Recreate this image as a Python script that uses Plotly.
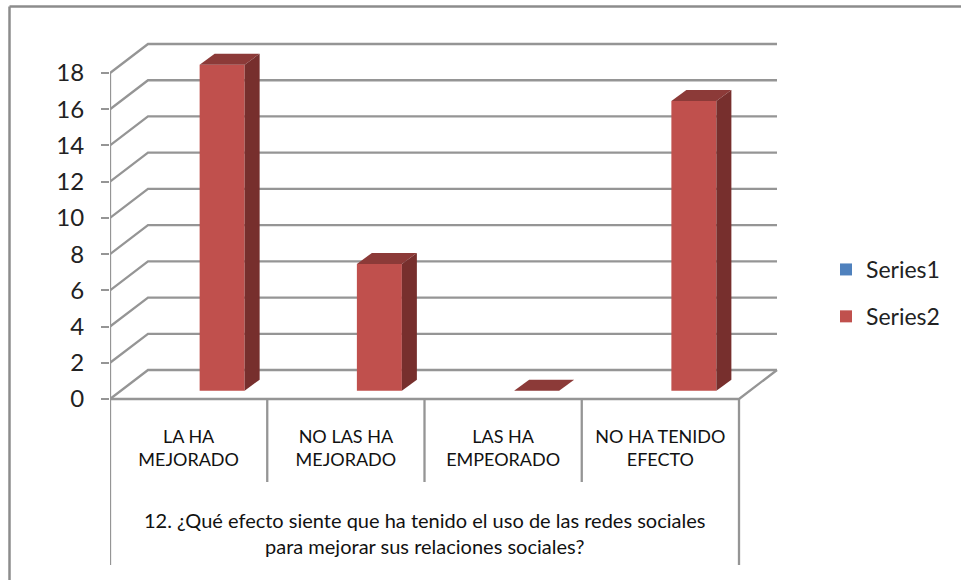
import plotly.graph_objects as go

categories = ["LA HA<br>MEJORADO", "NO LAS HA<br>MEJORADO", "LAS HA<br>EMPEORADO", "NO HA TENIDO<br>EFECTO"]
series1_values = [None, None, None, None]
series2_values = [18, 7, 0, 16]
y_ticks = list(range(0, 20, 2))
title_text = "12. ¿Qué efecto siente que ha tenido el uso de las redes sociales<br>para mejorar sus relaciones sociales?"

W, H = 961, 580
FONT = "Lato"
GRID = "#959595"
LW = 2.3
LEFT_PX, RIGHT_PX, TOP_PX, BOTTOM_PX, ZERO_PX = 110, 800, 36, 572, 399
CAT_PX, UNIT_PX = 157.25, 18.11
DX, DY = 38 / CAT_PX, 29 / UNIT_PX              # wall depth
BAR_DX, BAR_DY = 15 / CAT_PX, 11 / UNIT_PX      # bar depth
BAR_W = 45 / CAT_PX
BAR_OFF = 33.5 / CAT_PX - BAR_W / 2
BASE = 8.3 / UNIT_PX
n = len(categories)
xs = [i + 0.5 for i in range(n)]
y_top_val = max(y_ticks)

fig = go.Figure()

def line(xv, yv, width=LW):
    fig.add_trace(go.Scatter(x=xv, y=yv, mode="lines", line=dict(color=GRID, width=width),
                             showlegend=False, hoverinfo="skip"))

# walls: gridlines run along the left wall and then the back wall
for t in y_ticks:
    line([0, DX, n + DX], [t, t + DY, t + DY])
# floor edge
line([0, n, n + DX], [0, 0, DY])
# vertical axis and category separators
y_cat_end = -(482 - ZERO_PX) / UNIT_PX
y_title_end = -(565 - ZERO_PX) / UNIT_PX
line([0, 0], [y_top_val, y_title_end])
line([n, n], [0, y_title_end])
for i in range(1, n):
    line([i, i], [0, y_cat_end])

fig.add_trace(go.Bar(x=xs, y=series1_values, base=BASE, width=BAR_W, offset=BAR_OFF - BAR_W,
                     name="Series1", marker=dict(color="#4F81BD", line=dict(width=0)),
                     legendgroup="s1", xaxis="x2", yaxis="y2"))
fig.add_trace(go.Bar(x=xs, y=series2_values, base=BASE, width=BAR_W, offset=BAR_OFF,
                     name="Series2", marker=dict(color="#C0504D", line=dict(width=0)),
                     legendgroup="s2", xaxis="x2", yaxis="y2"))

# 3-D faces of the bars, derived from the data values
for cx, v in zip(xs, series2_values):
    x0 = cx + BAR_OFF
    x1 = x0 + BAR_W
    top = BASE + v
    fig.add_trace(go.Scatter(x=[x0, x1, x1 + BAR_DX, x0 + BAR_DX, x0],
                             y=[top, top, top + BAR_DY, top + BAR_DY, top],
                             fill="toself", fillcolor="#8C3A38", mode="none",
                             showlegend=False, hoverinfo="skip", xaxis="x2", yaxis="y2"))
    if v > 0:
        fig.add_trace(go.Scatter(x=[x1, x1 + BAR_DX, x1 + BAR_DX, x1, x1],
                                 y=[BASE, BASE + BAR_DY, top + BAR_DY, top, BASE],
                                 fill="toself", fillcolor="#772F2D", mode="none",
                                 showlegend=False, hoverinfo="skip", xaxis="x2", yaxis="y2"))

x_range = [0, (RIGHT_PX - LEFT_PX) / CAT_PX]
y_range = [-(BOTTOM_PX - ZERO_PX) / UNIT_PX, (ZERO_PX - TOP_PX) / UNIT_PX]
x_domain = [LEFT_PX / W, RIGHT_PX / W]
y_domain = [1 - BOTTOM_PX / H, 1 - TOP_PX / H]

fig.update_layout(
    width=W, height=H, margin=dict(l=0, r=0, t=0, b=0),
    paper_bgcolor="white", plot_bgcolor="rgba(0,0,0,0)",
    barmode="overlay",
    font=dict(family=FONT, color="#111111"),
    xaxis=dict(domain=x_domain, range=x_range,
               anchor="free", position=1 - ZERO_PX / H,
               tickvals=xs, ticktext=categories, ticks="", showgrid=False, zeroline=False,
               showline=False, tickangle=0, ticklabelstandoff=25,
               tickfont=dict(size=18, family=FONT, color="#111111")),
    yaxis=dict(domain=y_domain, range=y_range,
               tickvals=y_ticks, ticks="outside", ticklen=8, tickwidth=LW, tickcolor=GRID,
               showgrid=False, zeroline=False, showline=False, ticklabelstandoff=12,
               tickfont=dict(size=24, family=FONT, color="#222222")),
    xaxis2=dict(domain=x_domain, range=x_range, overlaying="x", visible=False, anchor="y2"),
    yaxis2=dict(domain=y_domain, range=y_range, overlaying="y", visible=False, anchor="x2"),
    legend=dict(x=826 / W, y=1 - 248 / H, xanchor="left", yanchor="top",
                font=dict(size=23, family=FONT, color="#222222"),
                tracegroupgap=14, bgcolor="rgba(0,0,0,0)"),
    shapes=[dict(type="line", xref="paper", yref="paper", x0=9.5 / W, x1=1,
                 y0=1 - 6.5 / H, y1=1 - 6.5 / H, line=dict(color="#8c8c8c", width=2.5), layer="below"),
            dict(type="line", xref="paper", yref="paper", x0=9.5 / W, x1=9.5 / W,
                 y0=1 - 6.5 / H, y1=0, line=dict(color="#8c8c8c", width=2.5), layer="below")],
    annotations=[dict(text=title_text, xref="x", yref="paper", x=n / 2, y=1 - 533 / H,
                      showarrow=False, xanchor="center", yanchor="middle",
                      font=dict(size=20, family=FONT, color="#111111"))],
)

fig.write_html("out.html", config=dict(displayModeBar=False),
               post_script="document.body.style.margin='0';document.body.style.overflow='hidden';")
